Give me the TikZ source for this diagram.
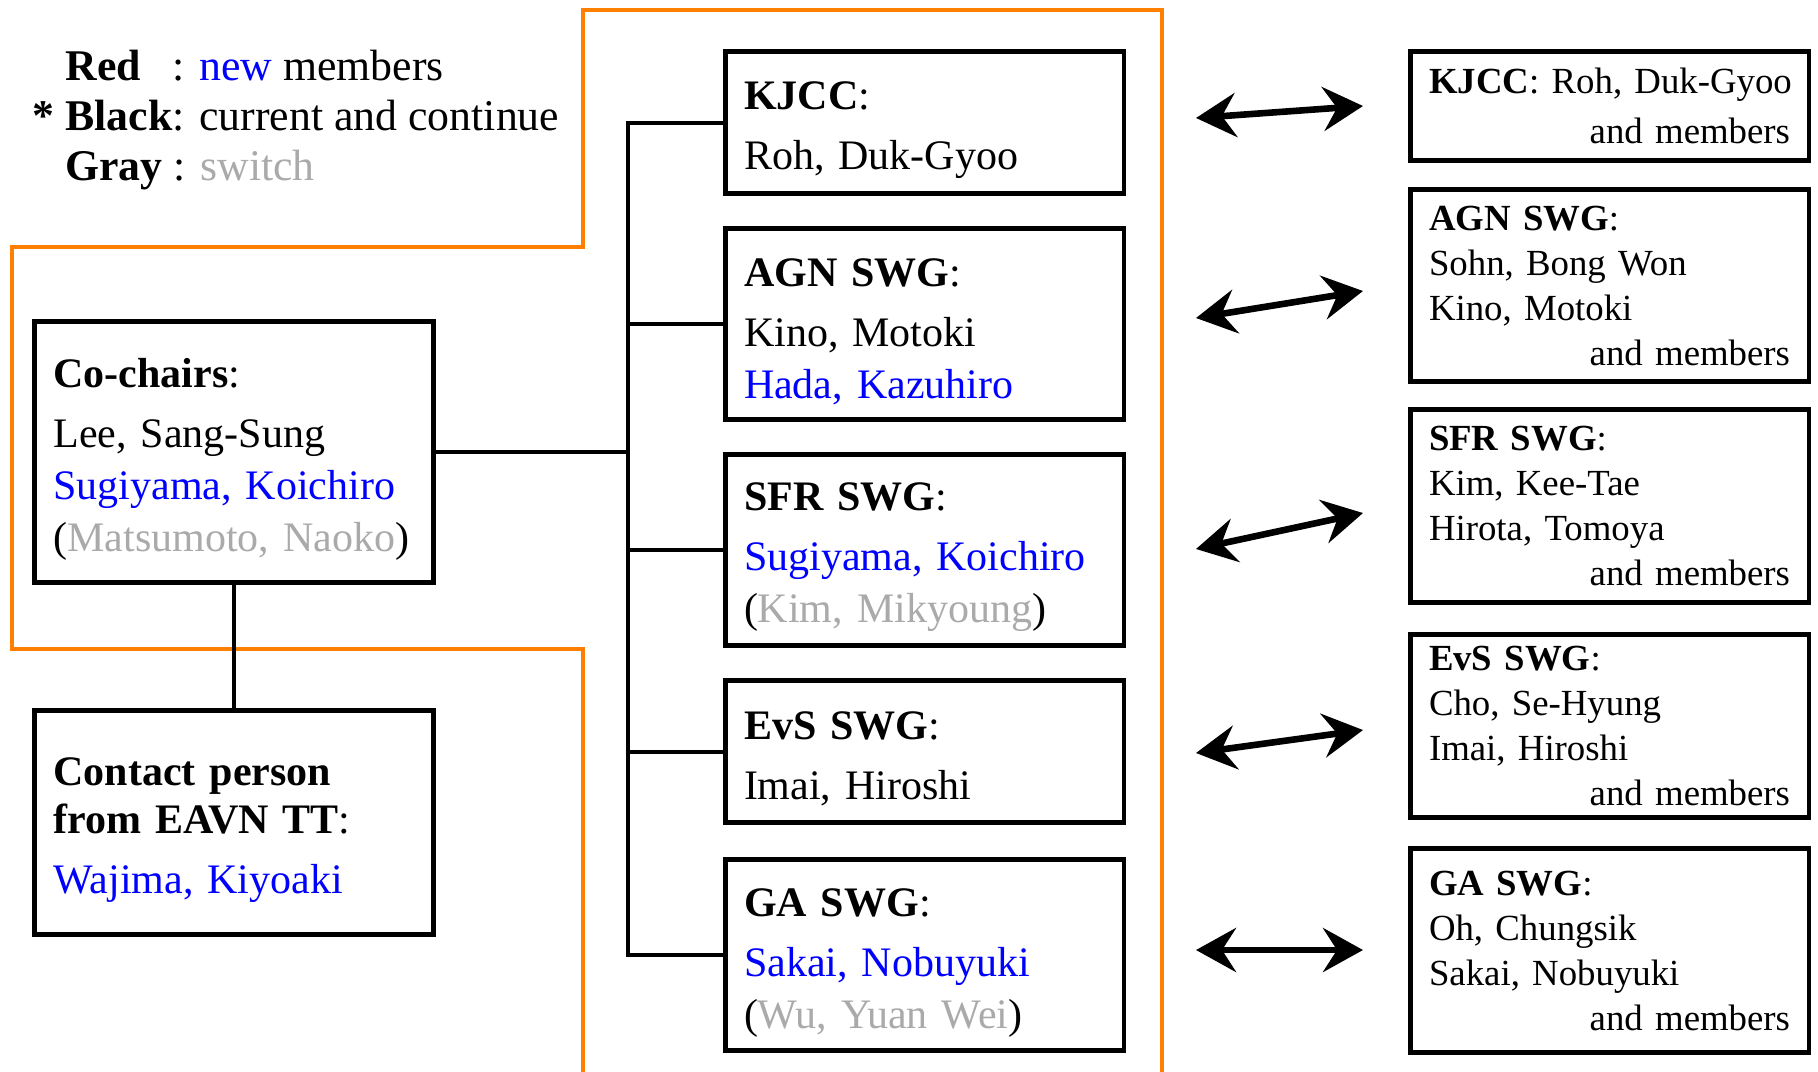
\documentclass[tikz,border=0pt]{standalone}
\usepackage{fontspec}
\setmainfont{Liberation Serif}
\usetikzlibrary{positioning, arrows.meta}
\definecolor{newblue}{RGB}{0,0,255}
\definecolor{switchgray}{RGB}{170,170,170}
\definecolor{frameorange}{RGB}{255,127,0}
\newcommand{\newmem}[1]{\textcolor{newblue}{#1}}
\newcommand{\switched}[1]{(\textcolor{switchgray}{#1})}
\tikzstyle{box} = [rectangle, draw=black, line width=2.3pt, inner xsep=9.4pt, inner ysep=4pt, align=left]
\tikzstyle{chair} = [box, text width=180.5pt, minimum width=199.2pt, font=\fontsize{21}{26}\selectfont, execute at begin node={\rule{0pt}{21.5pt}}]
\tikzstyle{swg} = [chair]
\tikzstyle{partner} = [box, text width=180.5pt, minimum width=199.2pt, font=\fontsize{18.4}{22.5}\selectfont]
\tikzstyle{arrow} = [line width=3.3pt, <->, >={Stealth[length=20pt, width=22pt, inset=7pt]}]
\tikzstyle{tree} = [line width=2pt]
\tikzstyle{frame} = [draw=frameorange, line width=2pt]

\begin{document}
\begin{tikzpicture}[x=0.5pt, y=-0.5pt]
	\useasboundingbox (0,0) rectangle (1818,1071);

	% orange frame round the committee
	\draw[frame] (583,1075) -- (583,649) -- (11.5,649) -- (11.5,247) -- (583,247) -- (583,9.5) -- (1162,9.5) -- (1162,1075);

	\node (legend) [anchor=north west, inner sep=0pt, align=left, font=\fontsize{21.9}{25}\selectfont] at (65,50) {\rlap{\textbf{Red}}\hphantom{\textbf{Black}}: \newmem{new} members\\ \llap{\textbf{*} }\textbf{Black}: current and continue\\ \textbf{Gray} : \textcolor{switchgray}{switch}};

	\node (cochairs) [chair, minimum height=130.7pt] at (234,452) {\textbf{Co-chairs}:\\[4pt] Lee, Sang-Sung\\ \newmem{Sugiyama, Koichiro}\\ \switched{Matsumoto, Naoko}};
	\node (contact) [chair, minimum height=112.2pt, below=61.5pt of cochairs] {\textbf{Contact person}\\[-2pt] \textbf{from EAVN TT}:\\[4pt] \newmem{Wajima, Kiyoaki}};

	\node (kjcc) [swg, minimum height=71.2pt] at (924.5,122.5) {\textbf{KJCC}:\\[4pt] Roh, Duk-Gyoo};
	\node (agnswg) [swg, minimum height=95.7pt, below=15pt of kjcc] {\textbf{AGN SWG}:\\[4pt] Kino, Motoki\\ \newmem{Hada, Kazuhiro}};
	\node (sfrswg) [swg, minimum height=95.7pt, below=15pt of agnswg] {\textbf{SFR SWG}:\\[4pt] \newmem{Sugiyama, Koichiro}\\ \switched{Kim, Mikyoung}};
	\node (evsswg) [swg, minimum height=71.2pt, below=15pt of sfrswg] {\textbf{EvS SWG}:\\[4pt] Imai, Hiroshi};
	\node (gaswg) [swg, minimum height=95.7pt, below=16pt of evsswg] {\textbf{GA SWG}:\\[4pt] \newmem{Sakai, Nobuyuki}\\ \switched{Wu, Yuan Wei}};

	\coordinate (trunk) at (628,0);
	\draw[tree] (kjcc.west) -- (kjcc.west -| trunk) -- (gaswg.west -| trunk) -- (gaswg.west);
	\foreach \n in {agnswg, sfrswg, evsswg}
		\draw[tree] (\n.west) -- (\n.west -| trunk);
	\draw[tree] (cochairs.east) -- (cochairs.east -| trunk);
	\draw[tree] (cochairs.south) -- (contact.north);

	\node (kjccpartner) [partner, minimum height=54.7pt] at (1609.5,106) {\mbox{\textbf{KJCC}: Roh, Duk-Gyoo}\\[2.5pt] \hspace*{\fill}and members};
	\node (agnpartner) [partner, minimum height=96.2pt, below=12pt of kjccpartner] {\textbf{AGN SWG}:\\ Sohn, Bong Won\\ Kino, Motoki\\ \hspace*{\fill}and members};
	\node (sfrpartner) [partner, minimum height=96.7pt, below=11.5pt of agnpartner] {\textbf{SFR SWG}:\\ Kim, Kee-Tae\\ Hirota, Tomoya\\ \hspace*{\fill}and members};
	\node (evspartner) [partner, minimum height=91.7pt, below=13.5pt of sfrpartner] {\textbf{EvS SWG}:\\ Cho, Se-Hyung\\ Imai, Hiroshi\\ \hspace*{\fill}and members};
	\node (gapartner) [partner, minimum height=102.2pt, below=13pt of evspartner] {\textbf{GA SWG}:\\ Oh, Chungsik\\ Sakai, Nobuyuki\\ \hspace*{\fill}and members};

	\coordinate (kjccleft) at (1196,118);
	\coordinate (kjccright) at (1363,106);
	\coordinate (agnleft) at (1196,318);
	\coordinate (agnright) at (1363,291);
	\coordinate (sfrleft) at (1196,549);
	\coordinate (sfrright) at (1363,513);
	\coordinate (evsleft) at (1196,753);
	\coordinate (evsright) at (1363,730);
	\coordinate (galeft) at (1196,950);
	\coordinate (garight) at (1363,950);

	\draw[arrow] (kjccleft) -- (kjccright);
	\draw[arrow] (agnleft) -- (agnright);
	\draw[arrow] (sfrleft) -- (sfrright);
	\draw[arrow] (evsleft) -- (evsright);
	\draw[arrow] (galeft) -- (garight);
\end{tikzpicture}
\end{document}
